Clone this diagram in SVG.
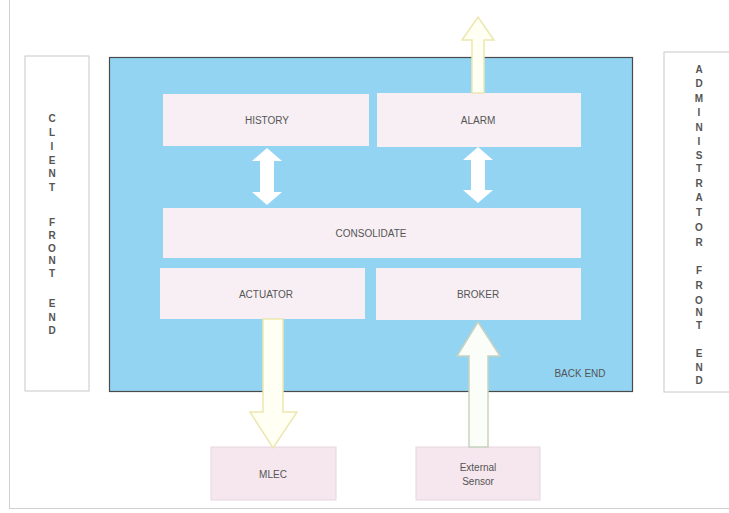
<svg xmlns="http://www.w3.org/2000/svg" width="729" height="513" viewBox="0 0 729 513">
<style>
.lbl{font-family:"Liberation Sans",Arial,sans-serif;font-size:10px;fill:#555;text-anchor:middle}
.vl{font-family:"Liberation Sans",Arial,sans-serif;font-size:10px;font-weight:bold;fill:#555;text-anchor:middle}
.inner{fill:#f7eff4}
.ext{fill:#f6e6ee;stroke:#e6d6de;stroke-width:1}
.side{fill:#fff;stroke:#c8c8c8;stroke-width:1}
.arr{fill:#fffff4;stroke:#ece7b0;stroke-width:1.5}
.dbl{fill:#fff;stroke:none}
</style>
<rect width="729" height="513" fill="#fff"/>
<line x1="9.5" y1="0" x2="9.5" y2="509" stroke="#d0d0d0"/>
<line x1="9" y1="508.5" x2="729" y2="508.5" stroke="#d0d0d0"/>

<g id="client-front-end">
<rect class="side" x="25" y="56" width="64" height="335"/>
<text class="vl" x="52"><tspan x="52" y="122">C</tspan><tspan x="52" y="136">L</tspan><tspan x="52" y="150">I</tspan><tspan x="52" y="164">E</tspan><tspan x="52" y="177">N</tspan><tspan x="52" y="191">T</tspan><tspan x="52" y="226">F</tspan><tspan x="52" y="239">R</tspan><tspan x="52" y="252">O</tspan><tspan x="52" y="264">N</tspan><tspan x="52" y="277">T</tspan><tspan x="52" y="307">E</tspan><tspan x="52" y="321">N</tspan><tspan x="52" y="334">D</tspan></text>
</g>

<g id="admin-front-end">
<rect class="side" x="664" y="52" width="70" height="340"/>
<text class="vl"><tspan x="699" y="73">A</tspan><tspan x="699" y="87">D</tspan><tspan x="699" y="102">M</tspan><tspan x="699" y="116">I</tspan><tspan x="699" y="131">N</tspan><tspan x="699" y="145">I</tspan><tspan x="699" y="159">S</tspan><tspan x="699" y="172">T</tspan><tspan x="699" y="187">R</tspan><tspan x="699" y="201">A</tspan><tspan x="699" y="216">T</tspan><tspan x="699" y="231">O</tspan><tspan x="699" y="246">R</tspan><tspan x="699" y="274">F</tspan><tspan x="699" y="289">R</tspan><tspan x="699" y="304">O</tspan><tspan x="699" y="316">N</tspan><tspan x="699" y="329">T</tspan><tspan x="699" y="357">E</tspan><tspan x="699" y="371">N</tspan><tspan x="699" y="384">D</tspan></text>
</g>

<g id="back-end">
<rect x="109.5" y="57.5" width="523" height="334" fill="#93d4f3" stroke="#4a4a4a" stroke-width="1.2"/>
<text class="lbl" x="580" y="377">BACK END</text>
</g>

<g id="history">
<rect class="inner" x="163" y="94" width="206" height="52"/>
<text class="lbl" x="267" y="124">HISTORY</text>
</g>
<g id="alarm">
<rect class="inner" x="377" y="93" width="204" height="54"/>
<text class="lbl" x="478" y="124">ALARM</text>
</g>
<g id="consolidate">
<rect class="inner" x="163" y="208" width="418" height="50"/>
<text class="lbl" x="371" y="237">CONSOLIDATE</text>
</g>
<g id="actuator">
<rect class="inner" x="160" y="268" width="205" height="51"/>
<text class="lbl" x="266" y="298">ACTUATOR</text>
</g>
<g id="broker">
<rect class="inner" x="376" y="268" width="205" height="52"/>
<text class="lbl" x="478" y="298">BROKER</text>
</g>
<g id="mlec">
<rect class="ext" x="211" y="447" width="125" height="53"/>
<text class="lbl" x="273" y="478">MLEC</text>
</g>
<g id="external-sensor">
<rect class="ext" x="416" y="447" width="124" height="53"/>
<text class="lbl" x="478" y="471">External</text>
<text class="lbl" x="478" y="485">Sensor</text>
</g>

<g id="connectors">
<path class="arr" d="M472,93 V40 H462 L478,17 L494,40 H484 V93 Z"/>
<path class="dbl" d="M267,148 L282,161 H274 V192 H282 L267,205 L252,192 H260 V161 H252 Z"/>
<path class="dbl" d="M478,147 L493,160 H485 V190 H493 L478,203 L463,190 H471 V160 H463 Z"/>
<path class="arr" d="M263,319 V412 H250 L273,448 L297,412 H283 V319 Z"/>
<path class="arr" style="fill:#fbfdf8;stroke:#c8d2c0" d="M469,447 V356 H457 L478,322 L500,356 H488 V447 Z"/>
</g>
</svg>
